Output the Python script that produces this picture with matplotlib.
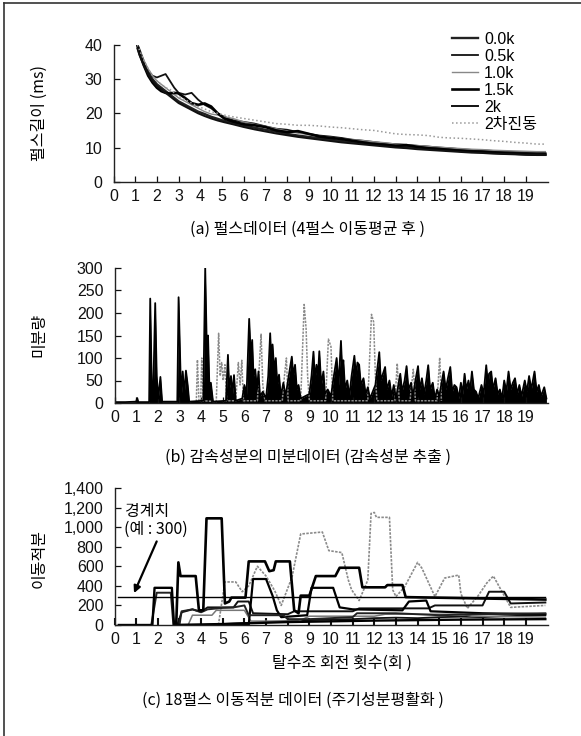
import matplotlib
matplotlib.use('Agg')
import matplotlib.pyplot as plt
from matplotlib.lines import Line2D

plt.rcParams['font.family'] = ['Liberation Sans', 'Noto Sans CJK KR', 'DejaVu Sans']
KR = ['Noto Sans CJK KR', 'DejaVu Sans']

# ---------------- data ----------------
x_ticks = list(range(0, 20))
x_tick_labels = [str(i) for i in x_ticks]

# (a) pulse length
x_a = [1.1, 1.2, 1.4, 1.6, 1.8, 2.0, 2.2, 2.4, 2.6, 2.8, 3.0, 3.3, 3.6, 3.9, 4.2, 4.5,
       4.8, 5.1, 5.5, 6.0, 6.5, 7.0, 7.5, 8.0, 8.5, 9.0, 9.5, 10.0, 10.5, 11.0, 11.5,
       12.0, 12.5, 13.0, 13.5, 14.0, 14.5, 15.0, 15.5, 16.0, 16.5, 17.0, 17.5, 18.0,
       18.5, 19.0, 19.5, 19.9]
a_00k = [40, 38.5, 35, 32, 30, 28.5, 27.5, 26.5, 25.5, 24.5, 23.5, 22.5, 21.5, 20.5, 19.8, 19.0,
         18.4, 17.8, 17.2, 16.4, 15.8, 15.2, 14.6, 14.0, 13.5, 13.1, 12.7, 12.3, 11.9, 11.6, 11.3,
         11.0, 10.7, 10.4, 10.2, 9.9, 9.7, 9.5, 9.3, 9.1, 8.9, 8.8, 8.6, 8.5, 8.4, 8.3, 8.2, 8.2]
a_05k = [40, 38, 35, 32.5, 31, 30.5, 31, 31.5, 29.5, 27.5, 26, 25.5, 26, 24, 22.5, 21.5,
         20, 19, 18, 17.5, 17, 16.2, 15.5, 15.2, 14.5, 14, 13.5, 13.2, 12.8, 12.3, 12.0,
         11.6, 11.2, 11.0, 10.8, 10.5, 10.3, 10.0, 9.8, 9.5, 9.3, 9.2, 9.0, 8.8, 8.7, 8.6, 8.5, 8.4]
a_10k = [40, 38, 35.5, 33, 31, 29.5, 28.5, 27.5, 26.5, 25.5, 24.5, 23.5, 22.5, 21.5, 20.5, 19.8,
         19.5, 19, 18.5, 17.5, 16.8, 16.2, 15.5, 14.8, 14.2, 13.8, 13.3, 13.0, 12.6, 12.3, 12.0,
         11.7, 11.4, 11.0, 10.8, 10.6, 10.3, 10.1, 9.9, 9.7, 9.5, 9.4, 9.2, 9.1, 9.0, 8.9, 8.8, 8.8]
a_15k = [40, 37.5, 34, 31, 29, 27.5, 26.5, 26, 25.8, 26, 25.8, 24.5, 23, 22.5, 22.9, 22,
         20, 18.5, 17.6, 16.8, 16.5, 16, 15, 14.5, 14.8, 14, 13.2, 12.8, 12.5, 12.0, 11.5,
         11.0, 10.8, 10.5, 10.7, 10.2, 9.8, 9.6, 9.3, 9.0, 8.8, 8.7, 8.5, 8.3, 8.2, 8.0, 7.9, 7.9]
a_2k = [39, 37, 34, 31.5, 29.5, 28, 27, 26, 25, 24, 23, 22, 21, 20, 19.2, 18.5,
        17.9, 17.4, 16.8, 16, 15.3, 14.7, 14.1, 13.6, 13.1, 12.7, 12.3, 11.9, 11.5, 11.2, 10.9,
        10.6, 10.3, 10.0, 9.8, 9.5, 9.3, 9.1, 8.9, 8.7, 8.5, 8.4, 8.2, 8.1, 8.0, 7.9, 7.8, 7.8]
a_2nd = [40, 38.5, 35.5, 33, 31, 29.5, 28.5, 27.5, 27, 26, 25, 24, 23, 22, 21.3, 20.5,
         20, 19.5, 19, 18.5, 18, 17.5, 17, 16.8, 16.5, 16.5, 16.3, 16.0, 15.8, 15.5, 15.2,
         15.0, 14.5, 14.0, 13.8, 13.7, 13.5, 13.0, 12.8, 12.7, 12.5, 12.3, 12.0, 11.8, 11.5, 11.3, 11.0, 11.0]
a_labels = ['0.0k', '0.5k', '1.0k', '1.5k', '2k', '2차진동']

# (b) differential data
b_black_x = [0.0, 0.5, 1.0, 1.05, 1.1, 1.6, 1.65, 1.72, 1.78, 1.88, 1.95, 2.02, 2.12, 2.2, 2.9,
             2.96, 3.02, 3.08, 3.15, 3.22, 3.3, 3.38, 3.45, 4.1, 4.19, 4.26, 4.32, 4.38, 4.45, 4.55,
             5.15, 5.24, 5.3, 5.38, 5.45, 5.52, 5.6, 5.9, 6.0, 6.1, 6.22, 6.3, 6.36, 6.42, 6.5,
             6.58, 6.65, 6.72, 6.85, 7.0, 7.1, 7.19, 7.25, 7.3, 7.38, 7.45, 7.52, 7.6, 7.68, 7.8,
             7.9, 8.05, 8.19, 8.26, 8.34, 8.42, 8.5, 8.6, 9.0, 9.1, 9.19, 9.26, 9.33, 9.4, 9.46,
             9.55, 9.65, 9.72, 9.85, 10.0, 10.1, 10.26, 10.35, 10.46, 10.52, 10.57, 10.65, 10.75,
             10.85, 10.95, 11.08, 11.15, 11.22, 11.3, 11.38, 11.5, 11.6, 11.7, 11.8, 12.05, 12.18,
             12.23, 12.3, 12.4, 12.5, 12.58, 12.7, 12.8, 12.9, 13.0, 13.2, 13.28, 13.4, 13.49,
             13.58, 13.7, 13.78, 13.9, 14.02, 14.1, 14.2, 14.3, 14.4, 14.49, 14.58, 14.7, 14.8,
             14.9, 15.0, 15.2, 15.3, 15.4, 15.51, 15.6, 15.7, 15.8, 15.9, 16.0, 16.08, 16.17,
             16.25, 16.35, 16.42, 16.51, 16.6, 16.7, 16.8, 16.95, 17.05, 17.17, 17.25, 17.3, 17.4,
             17.48, 17.6, 17.7, 17.8, 17.9, 18.0, 18.1, 18.2, 18.3, 18.4, 18.5, 18.6, 18.7, 18.8,
             18.95, 19.05, 19.15, 19.25, 19.4, 19.5, 19.6, 19.7, 19.85, 19.95]
b_black_v = [2, 2, 3, 11, 2, 2, 232, 40, 5, 222, 60, 10, 58, 3, 3,
             235, 120, 10, 70, 20, 72, 40, 3, 5, 300, 130, 150, 40, 45, 3,
             5, 107, 30, 60, 20, 62, 5, 10, 40, 20, 187, 100, 140, 60, 75,
             30, 70, 15, 25, 10, 60, 155, 90, 130, 70, 100, 40, 63, 15, 45,
             15, 60, 103, 60, 85, 30, 40, 10, 20, 60, 114, 50, 85, 60, 115,
             40, 70, 20, 30, 15, 50, 100, 40, 138, 70, 95, 30, 50,
             15, 60, 105, 60, 90, 85, 40, 55, 20, 35, 10, 40, 92,
             113, 50, 65, 80, 30, 50, 15, 40, 10, 65, 25, 50, 82,
             30, 45, 15, 50, 82, 30, 55, 20, 50, 84, 30, 45, 10,
             30, 15, 70, 30, 55, 80, 25, 40, 35, 10, 45, 20, 65,
             30, 50, 25, 70, 30, 25, 10, 40, 20, 84, 40, 65, 70,
             30, 55, 20, 30, 10, 50, 25, 70, 30, 45, 55, 20, 40, 15,
             50, 25, 60, 30, 70, 25, 40, 15, 35, 10]
b_gray_x = [3.78, 3.83, 3.9, 3.98, 4.03, 4.1, 4.7, 4.81, 4.88, 4.95, 5.02, 5.1, 5.18, 5.6, 5.72,
            5.8, 5.88, 5.95, 6.6, 6.77, 6.85, 6.95, 7.75, 7.85, 7.94, 8.02, 8.6, 8.76, 8.85,
            8.92, 9.0, 9.75, 9.88, 10.0, 10.08, 11.7, 11.87, 11.97, 12.05, 12.12, 12.95, 13.06,
            13.15, 13.65, 13.8, 13.9, 14.9, 15.02, 15.1]
b_gray_v = [3, 96, 5, 5, 100, 5, 3, 155, 60, 90, 50, 85, 5, 5, 90,
            40, 95, 5, 5, 153, 40, 5, 5, 60, 100, 5, 5, 219, 165,
            60, 5, 5, 142, 125, 5, 5, 197, 180, 60, 5, 5, 88,
            5, 5, 75, 5, 5, 101, 5]

# (c) moving integral data
c_threshold = 285
c_s1_x = [0.2, 1.75, 1.85, 2.65, 2.75, 5.0, 8.0, 12.0, 16.0, 19.9]
c_s1_v = [0, 0, 380, 380, 0, 10, 30, 45, 55, 60]
c_s2_x = [1.7, 1.95, 2.6, 2.72, 3.0, 3.1, 3.6, 4.0, 4.3, 5.0, 5.5, 6.0, 6.2, 7.8, 8.0, 9.0,
          11.0, 11.2, 13.0, 15.0, 17.0, 19.9]
c_s2_v = [0, 330, 330, 0, 0, 140, 160, 130, 160, 175, 180, 200, 100, 100, 60, 60,
          80, 120, 120, 100, 110, 120]
c_s3_x = [2.85, 2.95, 3.05, 3.75, 3.9, 4.1, 4.25, 4.95, 5.1, 5.3, 5.4, 6.05, 6.2, 6.95, 7.15,
          7.35, 7.45, 8.1, 8.3, 8.5, 8.6, 9.0, 9.3, 10.2, 10.4, 11.3, 11.45, 12.5, 12.6, 13.3,
          13.45, 16.0, 19.9]
c_s3_v = [0, 640, 500, 500, 150, 150, 1090, 1090, 220, 240, 280, 280, 650, 650, 550,
          560, 650, 650, 150, 120, 300, 300, 500, 500, 585, 585, 385, 385, 408, 408,
          285, 275, 260]
c_s4_x = [3.0, 6.2, 6.4, 7.0, 7.3, 7.5, 7.7, 8.9, 9.1, 10.1, 10.4, 11.0, 13.3, 13.6, 14.4,
          14.6, 17.0, 19.9]
c_s4_v = [0, 0, 470, 470, 300, 150, 80, 100, 380, 380, 180, 160, 150, 240, 250,
          140, 120, 110]
c_s5_x = [4.8, 5.1, 5.6, 5.9, 6.2, 6.6, 7.0, 7.4, 7.7, 8.2, 8.6, 9.6, 9.9, 10.5, 10.8,
          10.95, 11.3, 11.7, 11.85, 12.0, 12.1, 12.7, 12.85, 13.0, 13.4, 14.0, 14.2, 14.8,
          15.25, 15.9, 16.0, 16.3, 16.8, 17.2, 17.5, 18.0, 18.3, 19.9]
c_s5_v = [0, 440, 440, 340, 400, 600, 500, 350, 200, 490, 930, 950, 760, 740, 460,
          360, 250, 460, 1140, 1150, 1100, 1100, 360, 290, 390, 640, 580, 290,
          480, 510, 320, 170, 300, 430, 500, 300, 180, 200]
c_s6_x = [2.9, 3.1, 3.6, 4.0, 4.3, 5.5, 5.7, 6.2, 6.4, 8.0, 8.3, 11.0, 11.3, 14.5, 14.8,
          17.0, 17.3, 18.0, 18.3, 19.9]
c_s6_v = [0, 130, 160, 135, 180, 180, 240, 240, 120, 110, 140, 140, 170, 170, 200,
          200, 340, 340, 220, 230]
c_s7_x = [3.4, 3.6, 4.5, 4.7, 6.0, 6.3, 8.5, 9.0, 12.0, 12.5, 16.0, 16.5, 19.9]
c_s7_v = [0, 100, 100, 150, 150, 40, 40, 90, 90, 110, 110, 90, 80]
c_s8_x = [4.0, 5.0, 6.0, 7.0, 8.0, 9.0, 10.0, 11.0, 12.0, 13.0, 14.0, 15.0, 16.0, 17.0,
          18.0, 19.0, 19.9]
c_s8_v = [0, 10, 20, 30, 40, 50, 55, 60, 70, 75, 70, 80, 85, 80, 90, 95, 100]

# ---------------- figure ----------------
W, H = 581, 736
fig = plt.figure(figsize=(W / 100, H / 100), dpi=100)


def px_axes(l, t, r, b):
    return fig.add_axes([l / W, 1 - b / H, (r - l) / W, (b - t) / H])


def style(ax, ymax, yticks, yticklabels):
    ax.set_xlim(0, 20)
    ax.set_ylim(0, ymax)
    for s in ('top', 'right'):
        ax.spines[s].set_visible(False)
    for s in ('left', 'bottom'):
        ax.spines[s].set_linewidth(1.0)
        ax.spines[s].set_color('#222222')
    ax.set_xticks(x_ticks)
    ax.set_xticklabels(x_tick_labels)
    ax.set_yticks(yticks)
    ax.set_yticklabels(yticklabels)
    ax.tick_params(direction='in', length=4, width=0.9, labelsize=11.5, colors='#111111')
    ax.tick_params(axis='x', pad=5)
    ax.tick_params(axis='y', pad=8)
    ax.patch.set_alpha(0)


# (a)
axa = px_axes(113.5, 45, 547.5, 181.7)
series_a = [a_00k, a_05k, a_10k, a_15k, a_2k, a_2nd]
styles_a = [('#222222', 1.7, '-'), ('#111111', 1.3, '-'), ('#888888', 1.0, '-'),
            ('#000000', 1.9, '-'), ('#111111', 1.4, '-'), ('#999999', 1.1, ':')]
handles = []
for ys, (c, lw, ls), lab in zip(series_a, styles_a, a_labels):
    ln, = axa.plot(x_a, ys, color=c, lw=lw, ls=ls, label=lab)
    handles.append(ln)
style(axa, 40, [0, 10, 20, 30, 40], ['0', '10', '20', '30', '40'])
fig.legend(handles=handles, labels=a_labels, loc='upper left',
           bbox_to_anchor=(452 / W, 1 - 32 / H), frameon=False, fontsize=11.5,
           handlelength=1.6, handletextpad=0.4, labelspacing=0.12, borderpad=0,
           borderaxespad=0)

# (b)
axb = px_axes(114.5, 268, 547.5, 403)
axb.plot(b_gray_x, b_gray_v, color='#8a8a8a', lw=1.1, ls=(0, (1.5, 0.8)))
axb.fill_between(b_black_x, 0, b_black_v, color='#000000', lw=0)
axb.plot(b_black_x, b_black_v, color='#000000', lw=1.3)
style(axb, 300, [0, 50, 100, 150, 200, 250, 300],
      ['0', '50', '100', '150', '200', '250', '300'])

# (c)
axc = px_axes(114.5, 488, 547.5, 625)
axc.plot(c_s5_x, c_s5_v, color='#8a8a8a', lw=1.2, ls=(0, (1.5, 0.8)))
axc.plot(c_s8_x, c_s8_v, color='#111111', lw=1.3)
axc.plot(c_s7_x, c_s7_v, color='#777777', lw=1.1)
axc.plot(c_s6_x, c_s6_v, color='#111111', lw=1.4)
axc.plot(c_s4_x, c_s4_v, color='#000000', lw=1.6)
axc.plot(c_s2_x, c_s2_v, color='#222222', lw=1.4)
axc.plot(c_s1_x, c_s1_v, color='#000000', lw=1.7)
axc.plot(c_s3_x, c_s3_v, color='#000000', lw=1.9)
axc.plot([0.15, 19.9], [c_threshold, c_threshold], color='#000000', lw=1.0)
style(axc, 1400, [0, 200, 400, 600, 800, 1000, 1200, 1400],
      ['0', '200', '400', '600', '800', '1,000', '1,200', '1,400'])
axc.tick_params(axis='x', width=1.5, length=5)
axc.text(0.5, 1160, '경계치', family=KR, fontsize=11.5, va='center', ha='left')
axc.text(0.45, 975, '(예 : 300)', family=KR, fontsize=11.5, va='center', ha='left')
axc.annotate('', xy=(0.85, c_threshold + 15), xytext=(2.0, 880),
             arrowprops=dict(arrowstyle='-|>', color='#000000', lw=1.6,
                             mutation_scale=10))

# texts
fig.text(39 / W, 1 - 113 / H, '펄스길이 (ms)', family=KR, fontsize=11.5,
         rotation=90, ha='center', va='center')
fig.text(39 / W, 1 - 335 / H, '미분량', family=KR, fontsize=11.5,
         rotation=90, ha='center', va='center')
fig.text(39 / W, 1 - 558 / H, '이동적분', family=KR, fontsize=11.5,
         rotation=90, ha='center', va='center')
fig.text(308 / W, 1 - 229 / H, '(a) 펄스데이터 (4펄스 이동평균 후 )', family=KR,
         fontsize=11.5, ha='center', va='center')
fig.text(308 / W, 1 - 457 / H, '(b) 감속성분의 미분데이터 (감속성분 추출 )', family=KR,
         fontsize=11.5, ha='center', va='center')
fig.text(342 / W, 1 - 663 / H, '탈수조 회전 횟수(회 )', family=KR,
         fontsize=11.5, ha='center', va='center')
fig.text(293 / W, 1 - 700 / H, '(c) 18펄스 이동적분 데이터 (주기성분평활화 )', family=KR,
         fontsize=11.5, ha='center', va='center')

# frame (left & top edges)
fig.add_artist(Line2D([4 / W, 4 / W], [0, 1 - 3 / H], transform=fig.transFigure,
                      color='#333333', lw=1.2))
fig.add_artist(Line2D([4 / W, 1], [1 - 3 / H, 1 - 3 / H], transform=fig.transFigure,
                      color='#333333', lw=1.2))

fig.savefig('out.png', dpi=100, facecolor='white')
